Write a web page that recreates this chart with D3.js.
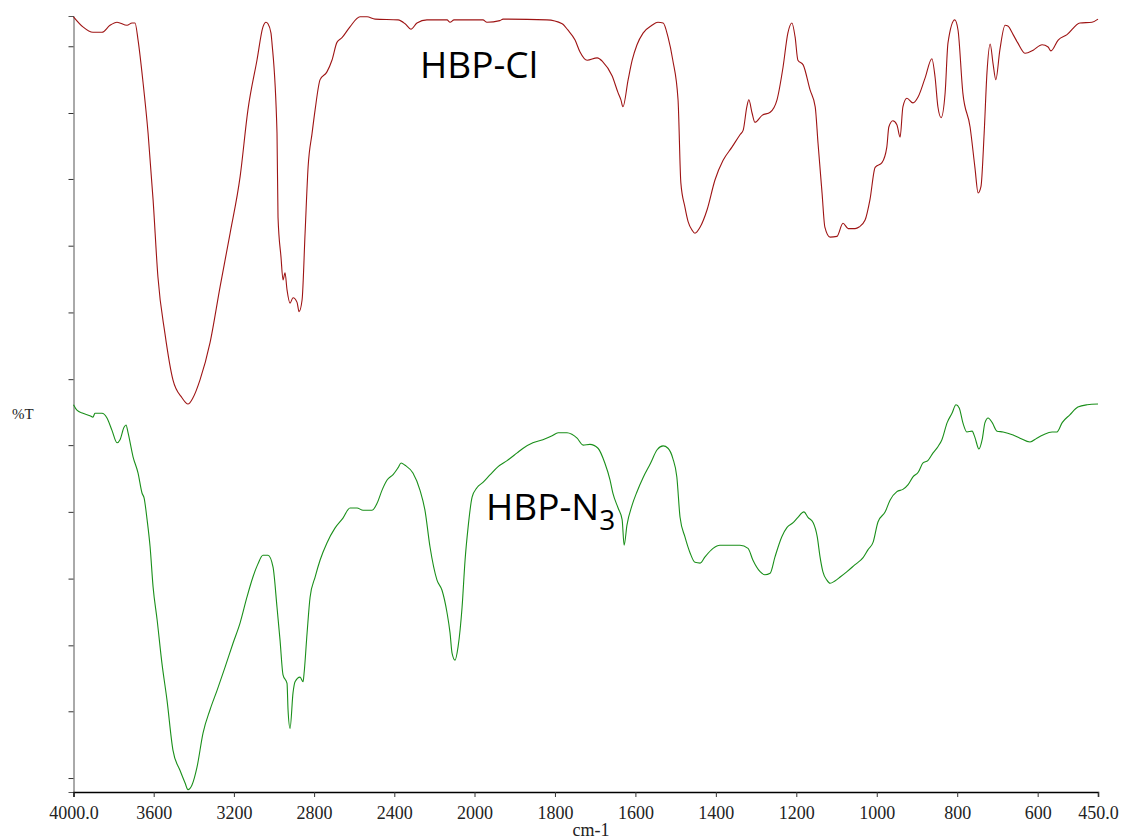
<!DOCTYPE html>
<html>
<head>
<meta charset="utf-8">
<script src="https://cdn.jsdelivr.net/npm/d3@7"></script>
<style>
  body { margin: 0; background: #fff; }
  svg { display: block; }
  .tick text { font-family: "Liberation Serif", "Times New Roman", serif; }
</style>
</head>
<body>
<div id="chart"></div>
<script>
// wavenumbers (cm-1) and %T
const clWave = [4000, 3953, 3903, 3858, 3818, 3783, 3733, 3708, 3693, 3678, 3653, 3628, 3603, 3579, 3544, 3504, 3459, 3429, 3404, 3369,
  3319, 3269, 3219, 3169, 3130, 3085, 3055, 3040, 3030, 3015, 3010, 2985, 2980, 2965, 2955, 2945, 2935, 2920, 2905, 2885,
  2875, 2860, 2845, 2830, 2810, 2795, 2770, 2736, 2711, 2686, 2661, 2621, 2571, 2536, 2496, 2381, 2346, 2317, 2287, 2237,
  2137, 2122, 2102, 2000, 1979, 1969, 1937, 1929, 1820, 1782, 1768, 1750, 1738, 1720, 1695, 1681, 1658, 1643, 1636, 1631,
  1618, 1608, 1596, 1581, 1559, 1544, 1531, 1519, 1507, 1494, 1487, 1477, 1469, 1459, 1452, 1439, 1422, 1402, 1382, 1360,
  1340, 1332, 1323, 1318, 1310, 1303, 1285, 1265, 1248, 1233, 1221, 1211, 1203, 1196, 1183, 1166, 1153, 1146, 1136, 1129,
  1116, 1099, 1084, 1071, 1054, 1044, 1029, 1017, 1004, 987, 975, 970, 960, 950, 942, 935, 925, 910, 897, 880,
  863, 855, 848, 840, 830, 823, 806, 798, 786, 768, 756, 748, 741, 733, 726, 718, 711, 704, 694, 681,
  674, 661, 649, 631, 611, 589, 574, 567, 549, 527, 495, 465, 450];
const clT = [99.9, 98.6, 97.9, 97.9, 98.8, 99.2, 98.8, 99.1, 99.1, 96.9, 91.4, 84.9, 76.3, 66.4, 59.1, 53.1, 50.8, 50.0, 50.8, 53.1,
  57.9, 65.1, 72.0, 79.3, 87.9, 94.3, 98.6, 99.2, 99.0, 97.8, 96.5, 84.9, 74.1, 68.9, 66.0, 66.9, 64.7, 63.0, 63.7, 63.1,
  61.9, 63.4, 72.0, 80.5, 84.9, 87.9, 91.8, 92.8, 94.3, 96.6, 97.2, 98.6, 99.9, 99.9, 99.6, 99.5, 99.0, 98.3, 99.1, 99.5,
  99.5, 99.2, 99.5, 99.5, 99.5, 99.2, 99.4, 99.6, 99.5, 99.0, 98.2, 96.9, 95.4, 94.3, 94.6, 94.1, 92.3, 90.1, 89.2, 88.3,
  91.8, 94.3, 96.3, 97.8, 98.8, 99.2, 99.1, 97.3, 94.3, 89.2, 78.5, 75.4, 73.5, 72.4, 72.0, 72.8, 75.0, 78.9, 81.4, 83.1,
  84.7, 85.3, 88.3, 89.2, 87.5, 86.3, 87.2, 87.6, 89.2, 93.4, 97.8, 99.1, 97.3, 94.3, 93.7, 90.5, 88.3, 83.6, 77.2, 72.8,
  71.5, 71.6, 73.3, 72.6, 72.6, 72.8, 73.7, 76.3, 80.5, 81.1, 83.1, 85.7, 86.5, 86.0, 84.4, 88.3, 89.4, 88.8, 89.6, 92.0,
  94.5, 92.1, 88.3, 86.9, 90.1, 96.5, 99.5, 98.2, 90.1, 85.7, 80.5, 77.2, 78.0, 84.9, 92.7, 96.4, 93.9, 91.8, 95.6, 98.8,
  98.7, 97.6, 96.5, 95.2, 95.6, 96.3, 96.0, 95.5, 96.9, 97.6, 99.1, 99.2, 99.6];

const n3Wave = [4000, 3983, 3953, 3918, 3903, 3893, 3858, 3833, 3808, 3783, 3768, 3748, 3738, 3728, 3703, 3678, 3658, 3648, 3633, 3618,
  3603, 3583, 3559, 3534, 3504, 3469, 3444, 3429, 3409, 3384, 3354, 3319, 3284, 3244, 3204, 3169, 3135, 3105, 3080, 3055,
  3030, 3005, 2985, 2970, 2955, 2935, 2930, 2920, 2905, 2895, 2870, 2855, 2850, 2835, 2820, 2795, 2770, 2736, 2696, 2656,
  2621, 2586, 2556, 2511, 2486, 2461, 2436, 2406, 2381, 2366, 2346, 2307, 2272, 2247, 2222, 2187, 2162, 2137, 2122, 2112,
  2097, 2082, 2062, 2047, 2032, 2012, 1994, 1979, 1961, 1942, 1919, 1894, 1879, 1855, 1830, 1807, 1792, 1770, 1758, 1745,
  1730, 1713, 1693, 1676, 1663, 1656, 1643, 1633, 1628, 1621, 1608, 1596, 1581, 1563, 1546, 1531, 1519, 1507, 1497, 1489,
  1477, 1464, 1452, 1439, 1427, 1407, 1390, 1365, 1340, 1320, 1308, 1290, 1278, 1265, 1253, 1236, 1223, 1208, 1196, 1181,
  1171, 1158, 1148, 1141, 1134, 1124, 1116, 1104, 1091, 1074, 1054, 1034, 1022, 1009, 997, 979, 967, 950, 935, 922,
  910, 897, 885, 873, 860, 848, 838, 825, 813, 803, 795, 786, 776, 763, 756, 746, 738, 731, 723, 713,
  701, 686, 661, 644, 619, 602, 587, 564, 552, 539, 520, 500, 477, 450];
const n3T = [49.9, 49.2, 48.8, 48.5, 48.3, 48.8, 48.8, 48.2, 46.6, 45.0, 45.4, 47.0, 47.3, 46.3, 43.2, 41.1, 38.5, 37.9, 35.1, 31.6,
  26.4, 22.2, 16.6, 11.9, 5.4, 2.8, 1.2, 0.3, 0.9, 3.2, 7.6, 10.6, 13.1, 16.1, 19.2, 21.8, 25.1, 27.7, 29.4, 30.5,
  30.5, 29.0, 23.8, 19.6, 15.1, 14.0, 10.6, 8.2, 12.8, 14.2, 14.8, 14.2, 15.3, 20.5, 25.1, 27.7, 29.9, 32.1, 34.0, 35.3,
  36.6, 36.6, 36.3, 36.3, 37.2, 38.9, 40.2, 40.9, 41.8, 42.4, 42.1, 41.1, 38.9, 36.3, 31.6, 27.3, 26.0, 23.1, 20.5, 17.9,
  17.0, 18.7, 23.8, 29.9, 34.1, 38.0, 39.2, 39.9, 40.9, 41.9, 42.7, 43.7, 44.3, 45.0, 45.4, 45.9, 46.3, 46.3, 46.1, 45.6,
  44.7, 44.8, 44.3, 42.4, 40.2, 38.5, 36.6, 35.1, 31.8, 34.4, 37.0, 38.7, 40.5, 42.3, 44.1, 44.6, 44.3, 43.0, 40.6, 35.4,
  32.9, 30.8, 29.6, 29.5, 30.3, 31.4, 31.8, 31.8, 31.8, 31.4, 29.9, 28.4, 28.0, 28.2, 30.3, 32.9, 34.1, 34.7, 35.4, 36.1,
  35.4, 34.7, 32.9, 30.3, 28.4, 27.3, 26.9, 27.2, 27.7, 28.4, 29.3, 30.2, 31.2, 32.2, 34.8, 36.1, 37.6, 38.7, 39.0, 39.6,
  40.6, 41.2, 42.4, 42.7, 43.7, 44.5, 45.4, 47.6, 48.8, 49.9, 49.5, 47.6, 46.4, 46.5, 45.7, 44.2, 45.4, 47.6, 48.2, 47.6,
  46.5, 46.4, 46.0, 45.6, 45.1, 45.6, 46.0, 46.4, 46.4, 47.6, 48.6, 49.6, 49.9, 50.0];

const xTickValues = [4000, 3600, 3200, 2800, 2400, 2000, 1800, 1600, 1400, 1200, 1000, 800, 600, 450];
const xTickLabels = ["4000.0", "3600", "3200", "2800", "2400", "2000", "1800", "1600", "1400", "1200", "1000", "800", "600", "450.0"];
const yTickValues = [1.8, 10.4, 18.9, 27.5, 36.1, 44.7, 53.2, 61.8, 70.4, 79.0, 87.5, 96.1];

const width = 1124, height = 840;

const svg = d3.select('#chart').append('svg')
    .attr('width', width)
    .attr('height', height);

// the instrument compresses the scale above 2000 cm-1
const x = d3.scaleLinear()
    .domain([4000, 2000, 450])
    .range([73.5, 474.5, 1098]);

const y = d3.scaleLinear()
    .domain([0, 100])
    .range([792, 16]);

let xAxis = d3.axisBottom(x)
    .tickValues(xTickValues)
    .tickFormat((d, i) => xTickLabels[i])
    .tickSize(5)
    .tickSizeOuter(5);

let yAxis = d3.axisLeft(y)
    .tickValues(yTickValues)
    .tickFormat('')
    .tickSize(5)
    .tickSizeOuter(5);

let gy = svg.append('g')
    .attr('transform', 'translate(' + x(4000) + ',0)')
    .call(yAxis);
gy.select('.domain').attr('stroke', '#555').attr('stroke-width', 1);
gy.selectAll('.tick line').attr('stroke', '#333');

let gx = svg.append('g')
    .attr('transform', 'translate(0,' + y(0) + ')')
    .call(xAxis);
gx.select('.domain').attr('stroke', '#000').attr('stroke-width', 1.5);
gx.selectAll('.tick line').attr('stroke', '#333');
gx.selectAll('.tick text')
    .attr('dy', 0)
    .attr('y', 27)
    .attr('fill', '#222')
    .style('font-size', '18px');

svg.append('text')
    .attr('x', 591)
    .attr('y', 836)
    .attr('text-anchor', 'middle')
    .attr('font-family', '"Liberation Serif", serif')
    .attr('font-size', 18)
    .attr('fill', '#222')
    .text('cm-1');

svg.append('text')
    .attr('x', 12)
    .attr('y', 419)
    .attr('font-family', '"Liberation Serif", serif')
    .attr('font-size', 15)
    .attr('fill', '#222')
    .text('%T');

let line = d3.line()
    .x(d => x(d[0]))
    .y(d => y(d[1]))
    .curve(d3.curveMonotoneX);

svg.append('path')
    .datum(d3.zip(clWave, clT))
    .attr('fill', 'none')
    .attr('stroke', '#9e1414')
    .attr('stroke-width', 1.1)
    .attr('d', line);

svg.append('path')
    .datum(d3.zip(n3Wave, n3T))
    .attr('fill', 'none')
    .attr('stroke', '#1a8f1a')
    .attr('stroke-width', 1.1)
    .attr('d', line);

svg.append('text')
    .attr('x', 420)
    .attr('y', 78)
    .attr('font-family', '"Open Sans", sans-serif')
    .attr('font-size', 37)
    .attr('fill', '#000')
    .text('HBP-Cl');

let n3Label = svg.append('text')
    .attr('x', 486)
    .attr('y', 520)
    .attr('font-family', '"Open Sans", sans-serif')
    .attr('font-size', 37)
    .attr('fill', '#000');
n3Label.append('tspan').text('HBP-N');
n3Label.append('tspan')
    .attr('font-size', 28)
    .attr('dy', 10)
    .text('3');
</script>
</body>
</html>
